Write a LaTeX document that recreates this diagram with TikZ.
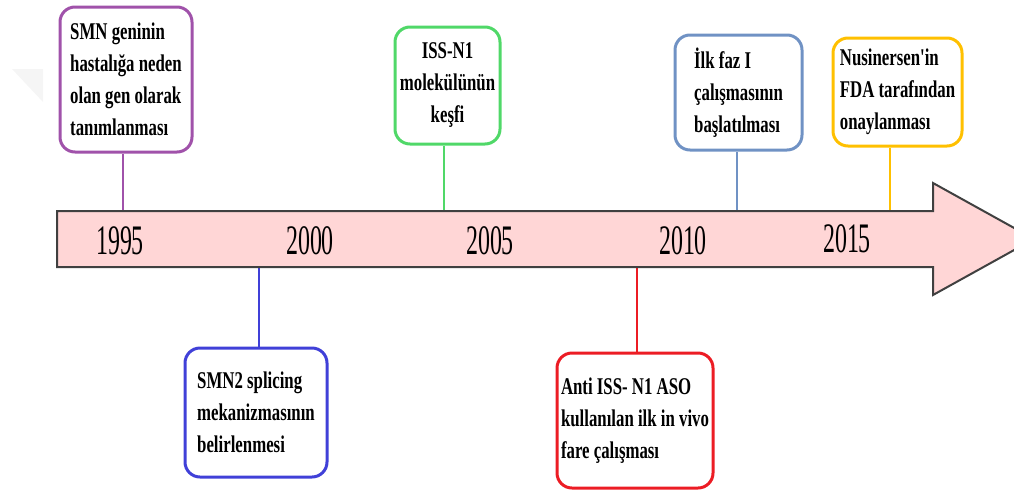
\documentclass[tikz,border=0pt]{standalone}
\usepackage{fontspec}
\newfontfamily\boxfont[FakeStretch=0.70]{Liberation Serif}
\newfontfamily\yearfont[FakeStretch=0.57]{Liberation Serif}
\definecolor{evpurple}{RGB}{160,82,170}
\definecolor{evgreen}{RGB}{80,216,104}
\definecolor{evsteel}{RGB}{112,146,196}
\definecolor{evgold}{RGB}{255,192,0}
\definecolor{evblue}{RGB}{64,64,216}
\definecolor{evred}{RGB}{236,28,36}
\definecolor{arrowpink}{RGB}{255,214,214}
\definecolor{arrowline}{RGB}{64,64,64}

\begin{document}
\begin{tikzpicture}[x=1pt, y=-1pt,
        evbox/.style={draw, line width=3pt, rounded corners=15pt, inner sep=0pt, align=left,
            font=\boxfont\bfseries\fontsize{24}{32}\selectfont},
        link/.style={line width=2.5pt},
        yr/.style={anchor=base, font=\yearfont\fontsize{42}{42}\selectfont}]
        \useasboundingbox (0,0) rectangle (1014,493);
        % Faint mark
        \fill [gray!8] (12,69) -- (43,69) -- (43,102) -- cycle;
        % Arrow
        \fill [arrowpink] (57,211) -- (933,211) -- (933,183) -- (1034,239) -- (933,295) -- (933,267) -- (57,267) -- cycle;
        % Points on arrow
        \coordinate (p1) at (123,211);
        \coordinate (p2) at (259,267);
        \coordinate (p3) at (444,211);
        \coordinate (p4) at (637,267);
        \coordinate (p5) at (737,211);
        \coordinate (p6) at (890,211);
        % Boxes above
        \node [evbox, draw=evpurple, minimum width=132pt, minimum height=145pt] (smn) at (126,79.5)
            {SMN geninin\\hastalığa neden\\olan gen olarak\\tanımlanması};
        \node [evbox, draw=evgreen, align=center, minimum width=105pt, minimum height=117pt] (iss) at (447.5,85.5)
            {ISS-N1\\molekülünün\\keşfi};
        \node [evbox, draw=evsteel, minimum width=127pt, minimum height=115pt] (faz) at (738.5,92.5)
            {İlk faz I\\çalışmasının\\başlatılması};
        \node [evbox, draw=evgold, minimum width=129pt, minimum height=108pt] (fda) at (897.5,92)
            {Nusinersen'in\\FDA tarafından\\onaylanması};
        % Boxes below
        \node [evbox, draw=evblue, minimum width=142pt, minimum height=129pt] (spl) at (256,412.5)
            {SMN2 splicing\\mekanizmasının\\belirlenmesi};
        \node [evbox, draw=evred, minimum width=156pt, minimum height=135pt] (aso) at (635,420.5)
            {Anti ISS- N1 ASO\\kullanılan ilk in vivo\\fare çalışması};
        % Links
        \draw [link, evpurple] (p1) -- (p1 |- smn.south);
        \draw [link, evgreen] (p3) -- (p3 |- iss.south);
        \draw [link, evsteel] (p5) -- (p5 |- faz.south);
        \draw [link, evgold] (p6) -- (p6 |- fda.south);
        \draw [link, evblue] (p2) -- (p2 |- spl.north);
        \draw [link, evred] (p4) -- (p4 |- aso.north);
        % Arrow outline
        \draw [arrowline, line width=2pt] (57,211) -- (933,211) -- (933,183) -- (1034,239) -- (933,295) -- (933,267) -- (57,267) -- cycle;
        % Years
        \node [yr] (y1995) at (120,254) {1995};
        \node [yr] (y2000) at (310,254) {2000};
        \node [yr] (y2005) at (490,254) {2005};
        \node [yr] (y2010) at (683,254) {2010};
        \node [yr] (y2015) at (847,252) {2015};
    \end{tikzpicture}
\end{document}
